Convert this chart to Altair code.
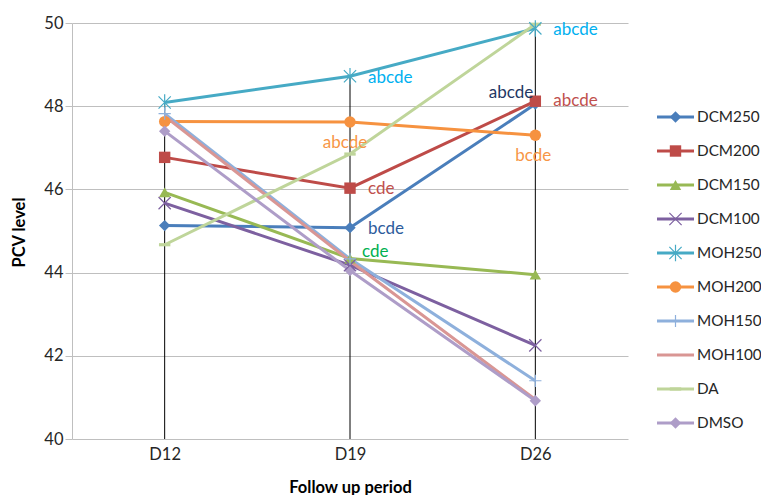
import altair as alt
import pandas as pd

# ---------------- data ----------------
periods = ["D12", "D19", "D26"]
series = ["DCM250", "DCM200", "DCM150", "DCM100", "MOH250",
          "MOH200", "MOH150", "MOH100", "DA", "DMSO"]

dcm250 = [45.13, 45.08, 48.05]
dcm200 = [46.77, 46.03, 48.12]
dcm150 = [45.93, 44.34, 43.95]
dcm100 = [45.67, 44.18, 42.25]
moh250 = [48.09, 48.72, 49.87]
moh200 = [47.63, 47.62, 47.30]
moh150 = [47.82, 44.33, 41.40]
moh100 = [47.76, 44.28, 40.95]
da = [44.67, 46.85, 49.97]
dmso = [47.40, 44.05, 40.92]

series_values = [dcm250, dcm200, dcm150, dcm100, moh250,
                 moh200, moh150, moh100, da, dmso]

ann_text = ["abcde", "abcde", "abcde", "abcde", "abcde",
            "bcde", "cde", "bcde", "cde"]
ann_series = ["MOH250", "MOH250", "DCM250", "DCM200", "MOH200",
              "MOH200", "DCM200", "DCM250", "DCM150"]
ann_period = ["D26", "D19", "D26", "D26", "D19",
              "D26", "D19", "D19", "D19"]

# ---------------- styles ----------------
colors = ["#4A7EBB", "#BE4B48", "#98B954", "#7D60A0", "#46AAC5",
          "#F69240", "#8EB0DC", "#D99694", "#BFD59A", "#AE9DC8"]
shapes = ["diamond", "square", "triangle-up",
          "M-1,-1L1,1M-1,1L1,-1",
          "M-1,-1L1,1M-1,1L1,-1M0,-1.35L0,1.35",
          "circle",
          "M-1,0L1,0M0,-1L0,1",
          "circle",
          "M-1,-0.28L1,-0.28L1,0.28L-1,0.28Z",
          "diamond"]
filled_series = ["DCM250", "DCM200", "DCM150", "MOH200", "DA", "DMSO"]
stroke_series = ["DCM100", "MOH250", "MOH150"]

# (align, dx, dy, color) for each annotation
ann_style = [
    ("left", 18, 2, "#00B0F0"),
    ("left", 18, 2, "#00B0F0"),
    ("right", -2, -11, "#1F3864"),
    ("left", 18, 0, "#C0504D"),
    ("center", -5, 21, "#F79646"),
    ("center", -2, 21, "#F79646"),
    ("left", 18, 1, "#C0504D"),
    ("left", 18, 1, "#2E5C9C"),
    ("left", 12, -6, "#00B050"),
]

FONT = "Lato"
FS = 16.5

rows = []
for s, vals in zip(series, series_values):
    for p, v in zip(periods, vals):
        rows.append({"series": s, "period": p, "value": v})
df = pd.DataFrame(rows)

x_scale = alt.Scale(type="point", domain=periods, padding=0.5)
y_scale = alt.Scale(domain=[40, 50], nice=False, zero=False)

x_enc = alt.X(
    "period:N", scale=x_scale, sort=periods,
    axis=alt.Axis(title="Follow up period", labelAngle=0, ticks=False,
                  domain=False, grid=False, labelPadding=7,
                  labelFontSize=FS, labelColor="#262626", labelFont=FONT,
                  titleFontSize=FS, titleFontWeight="bold", titleColor="#000000",
                  titleFont=FONT, titleY=48, titleBaseline="middle"))
y_enc = alt.Y(
    "value:Q", scale=y_scale,
    axis=alt.Axis(title="PCV level", values=[40, 42, 44, 46, 48, 50],
                  grid=True, gridColor="#BFBFBF", gridWidth=1,
                  domainColor="#BFBFBF", tickColor="#BFBFBF", tickSize=7,
                  labelPadding=2, labelFontSize=FS, labelColor="#262626",
                  labelFont=FONT, titleFontSize=FS, titleFontWeight="bold",
                  titleColor="#000000", titleFont=FONT, titleX=-53, titleY=209,
                  titleBaseline="middle", titleAlign="center"))
color_enc = alt.Color("series:N", scale=alt.Scale(domain=series, range=colors),
                      legend=None)
shape_enc = alt.Shape("series:N", scale=alt.Scale(domain=series, range=shapes),
                      legend=None)

base = alt.Chart(df)

drops = base.transform_aggregate(
    value="max(value)", groupby=["period"]
).mark_rule(color="#000000", strokeWidth=1).encode(
    x=x_enc, y=y_enc, y2=alt.Y2Datum(40))

lines = base.mark_line(strokeWidth=3).encode(
    x=x_enc, y=y_enc, color=color_enc, detail="series:N")

pts_filled = base.transform_filter(
    alt.FieldOneOfPredicate(field="series", oneOf=filled_series)
).mark_point(filled=True, size=130, opacity=1).encode(
    x=x_enc, y=y_enc, color=color_enc, shape=shape_enc)

pts_stroke = base.transform_filter(
    alt.FieldOneOfPredicate(field="series", oneOf=stroke_series)
).mark_point(filled=False, size=150, strokeWidth=1.2, opacity=1).encode(
    x=x_enc, y=y_enc, color=color_enc, shape=shape_enc)

ann_layers = []
for i in range(len(ann_text)):
    s, p = ann_series[i], ann_period[i]
    v = df[(df.series == s) & (df.period == p)]["value"].iloc[0]
    adf = pd.DataFrame({"period": [p], "value": [v], "label": [ann_text[i]]})
    align, dx, dy, col = ann_style[i]
    ann_layers.append(
        alt.Chart(adf).mark_text(align=align, baseline="middle", dx=dx, dy=dy,
                                 fontSize=17, font=FONT, color=col).encode(
            x=x_enc, y=y_enc, text="label:N"))

main = alt.layer(drops, lines, pts_filled, pts_stroke, *ann_layers)

# ---------------- legend ----------------
leg_df = pd.DataFrame({"series": series})
lx = alt.Scale(domain=[0, 1], range=[585, 622])
ly = alt.Scale(type="point", domain=series, range=[94, 400], padding=0)
leg_y = alt.Y("series:N", scale=ly, axis=None)
leg = alt.Chart(leg_df)

leg_rule = leg.mark_rule(strokeWidth=3).encode(
    x=alt.XDatum(0, type="quantitative", scale=lx, axis=None),
    x2=alt.X2Datum(1), y=leg_y, color=color_enc)
leg_pf = leg.transform_filter(
    alt.FieldOneOfPredicate(field="series", oneOf=filled_series)
).mark_point(filled=True, size=130, opacity=1).encode(
    x=alt.XDatum(0.5, type="quantitative", scale=lx, axis=None),
    y=leg_y, color=color_enc, shape=shape_enc)
leg_ps = leg.transform_filter(
    alt.FieldOneOfPredicate(field="series", oneOf=stroke_series)
).mark_point(filled=False, size=150, strokeWidth=1.2, opacity=1).encode(
    x=alt.XDatum(0.5, type="quantitative", scale=lx, axis=None),
    y=leg_y, color=color_enc, shape=shape_enc)
leg_text = leg.mark_text(align="left", baseline="middle", dx=3, fontSize=15.3,
                         font=FONT, color="#262626").encode(
    x=alt.XDatum(1, type="quantitative", scale=lx, axis=None),
    y=leg_y, text="series:N")

legend = alt.layer(leg_rule, leg_pf, leg_ps, leg_text)

chart = alt.layer(main, legend).resolve_scale(
    x="independent", y="independent"
).properties(
    width=556, height=416,
    padding={"left": 64, "top": 15, "right": 133, "bottom": 56},
    autosize=alt.AutoSizeParams(type="none"),
).configure(font=FONT).configure_view(stroke=None)

chart.save("out.html", embed_options={"renderer": "svg", "actions": False})
